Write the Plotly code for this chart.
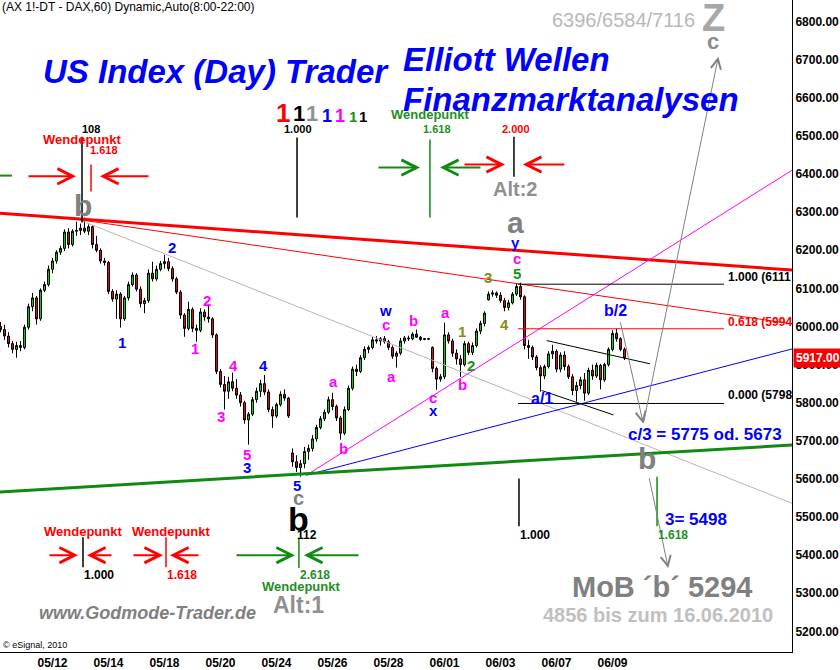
import plotly.graph_objects as go

FONT = "Liberation Sans, Arial, sans-serif"

# ---------------- data ----------------
days = ["05/10", "05/11", "05/12", "05/13", "05/14", "05/17", "05/18", "05/19", "05/20",
        "05/21", "05/24", "05/25", "05/26", "05/27", "05/28", "05/31", "06/01", "06/02",
        "06/03", "06/04", "06/07", "06/08", "06/09"]
tick_days = ["05/12", "05/14", "05/18", "05/20", "05/24", "05/26", "05/28",
             "06/01", "06/03", "06/07", "06/09"]
price_ticks = [5200, 5300, 5400, 5500, 5600, 5700, 5800, 5900, 6000, 6100,
               6200, 6300, 6400, 6500, 6600, 6700, 6800]
price_tick_labels = ["5200.00", "5300.00", "5400.00", "5500.00", "5600.00", "5700.00",
                     "5800.00", "5900.00", "6000.00", "6100.00", "6200.00", "6300.00",
                     "6400.00", "6500.00", "6600.00", "6700.00", "6800.00"]
last_price = 5917

# 2-hour bars (7 per session), first bar is slot 4 of 05/10
opens = [6000, 5992, 5975,
         5955, 5940, 5950, 5945, 5998, 6052, 6075,
         6020, 6095, 6110, 6150, 6172, 6195, 6205,
         6248, 6215, 6250, 6252, 6258, 6250, 6262,
         6215, 6200, 6172, 6168, 6092, 6072, 6085,
         6020, 6075, 6110, 6135, 6098, 6060, 6068,
         6140, 6125, 6150, 6165, 6170, 6152, 6125,
         6090, 6030, 5995, 6045, 5995, 5990, 6038,
         6025, 6020, 5978, 5882, 5848, 5830, 5855,
         5838, 5820, 5800, 5755, 5770, 5808, 5830,
         5850, 5828, 5782, 5765, 5795, 5822, 5812,
         5668, 5645, 5630, 5640, 5672, 5680, 5705,
         5735, 5758, 5775, 5808, 5790, 5760, 5720,
         5782, 5838, 5888, 5882, 5918, 5940, 5945,
         5965, 5962, 5968, 5960, 5945, 5922, 5930,
         5962, 5970, 5968, 5980, 5972, 5966, 5968,
         5945, 5890, 5862, 5868, 5978, 5962, 5930,
         5915, 5900, 5955, 5932, 5950, 5988, 6008,
         6070, 6085, 6088, 6082, 6068, 6050, 6062,
         6085, 6105, 6078, 5950, 5945, 5920, 5892,
         5870, 5895, 5928, 5935, 5888, 5925, 5895,
         5868, 5832, 5845, 5860, 5825, 5885, 5870,
         5898, 5860, 5900, 5940, 5982, 5968, 5940]
highs = [6012, 6005, 5985,
         5962, 5960, 5962, 6005, 6060, 6088, 6080,
         6100, 6118, 6160, 6180, 6200, 6212, 6255,
         6258, 6255, 6275, 6270, 6286, 6268, 6265,
         6238, 6205, 6180, 6172, 6098, 6095, 6090,
         6080, 6118, 6142, 6140, 6105, 6075, 6150,
         6170, 6160, 6172, 6188, 6180, 6158, 6130,
         6095, 6035, 6065, 6050, 6005, 6048, 6045,
         6058, 6025, 5982, 5888, 5870, 5868, 5879,
         5862, 5828, 5805, 5775, 5815, 5840, 5860,
         5873, 5835, 5790, 5800, 5830, 5835, 5815,
         5680, 5662, 5650, 5684, 5690, 5715, 5742,
         5765, 5782, 5816, 5826, 5795, 5765, 5790,
         5845, 5895, 5900, 5925, 5948, 5950, 5972,
         5975, 5972, 5975, 5965, 5950, 5935, 5970,
         5975, 5976, 5985, 5992, 5975, 5970, 5970,
         5948, 5895, 5875, 6010, 5985, 5968, 5940,
         5925, 5962, 5960, 5958, 5995, 6015, 6040,
         6092, 6095, 6092, 6090, 6075, 6070, 6090,
         6112, 6115, 6082, 5965, 5950, 5925, 5898,
         5900, 5935, 5952, 5940, 5932, 5935, 5900,
         5875, 5855, 5868, 5878, 5892, 5900, 5905,
         5902, 5905, 5945, 5990, 5994, 5972, 5945]
lows = [5985, 5965, 5945,
        5930, 5918, 5935, 5940, 5992, 6040, 6005,
        6015, 6090, 6105, 6140, 6165, 6188, 6198,
        6205, 6210, 6238, 6240, 6245, 6240, 6205,
        6195, 6165, 6160, 6085, 6065, 6020, 5997,
        6015, 6068, 6105, 6092, 6050, 6035, 6062,
        6118, 6120, 6145, 6152, 6145, 6118, 6085,
        6020, 5973, 5990, 5985, 5960, 5985, 6015,
        6010, 5970, 5875, 5840, 5782, 5810, 5830,
        5810, 5790, 5745, 5690, 5765, 5800, 5815,
        5820, 5775, 5734, 5760, 5790, 5805, 5760,
        5632, 5618, 5606, 5628, 5650, 5672, 5698,
        5730, 5752, 5770, 5780, 5752, 5703, 5715,
        5778, 5832, 5870, 5878, 5912, 5930, 5940,
        5955, 5950, 5955, 5938, 5915, 5892, 5925,
        5955, 5962, 5964, 5970, 5962, 5964, 5965,
        5880, 5834, 5855, 5862, 5955, 5920, 5900,
        5868, 5895, 5925, 5925, 5945, 5980, 6000,
        6068, 6078, 6075, 6062, 6040, 6042, 6058,
        6080, 6070, 5940, 5915, 5912, 5885, 5829,
        5862, 5890, 5915, 5880, 5880, 5885, 5862,
        5820, 5803, 5835, 5805, 5820, 5860, 5865,
        5835, 5855, 5895, 5935, 5960, 5935, 5912]
closes = [5992, 5975, 5955,
          5940, 5950, 5945, 5998, 6052, 6075, 6020,
          6095, 6110, 6150, 6172, 6195, 6205, 6248,
          6215, 6250, 6252, 6258, 6250, 6262, 6215,
          6200, 6172, 6168, 6092, 6072, 6085, 6020,
          6075, 6110, 6135, 6098, 6060, 6068, 6140,
          6125, 6150, 6165, 6170, 6152, 6125, 6090,
          6030, 5995, 6045, 5995, 5990, 6038, 6025,
          6020, 5978, 5882, 5848, 5830, 5855, 5838,
          5820, 5800, 5755, 5770, 5808, 5830, 5850,
          5828, 5782, 5765, 5795, 5822, 5812, 5765,
          5645, 5630, 5640, 5672, 5680, 5705, 5735,
          5758, 5775, 5808, 5790, 5760, 5720, 5782,
          5838, 5888, 5882, 5918, 5940, 5945, 5965,
          5962, 5968, 5960, 5945, 5922, 5930, 5962,
          5970, 5968, 5980, 5972, 5966, 5968, 5967,
          5890, 5862, 5868, 5978, 5962, 5930, 5915,
          5900, 5955, 5932, 5950, 5988, 6008, 6035,
          6085, 6088, 6082, 6068, 6050, 6062, 6085,
          6105, 6078, 5950, 5945, 5920, 5892, 5870,
          5895, 5928, 5935, 5888, 5925, 5895, 5868,
          5832, 5845, 5860, 5825, 5885, 5870, 5898,
          5860, 5900, 5940, 5982, 5968, 5940, 5917]

# trend / fib lines in (session index, price) coordinates
trend_lines = [
    # x0, p0, x1, p1, colour, width
    (0.125, 6297, 28.41, 6148, "#ff0000", 3),
    (3.09, 6279, 28.41, 6007, "#ff0000", 1),
    (3.09, 6276, 28.41, 5536, "#bcb4b4", 1),
    (11.07, 5610, 28.41, 6410, "#ff00ff", 1),
    (11.07, 5610, 28.41, 5941, "#0000ff", 1),
    (0.125, 5566, 28.41, 5689, "#108a10", 3),
    (19.65, 5963, 23.34, 5902, "#000000", 1),
    (19.47, 5832, 22.03, 5768, "#000000", 1),
    (0.125, 6396, 0.55, 6396, "#108a10", 2),
]
fib_levels = [6111, 5994, 5798]
fib_colors = ["#000000", "#ff0000", "#000000"]
fib_names = ["1.000 (6111", "0.618 (5994", "0.000 (5798"]
fib_label_prices = [6129, 6013, 5819]
fib_x = (18.625, 25.98)

# vertical turning-point markers: x, p_top, p_bottom, colour
markers = [
    (3.054, 6498, 6273, "#000000"),
    (3.375, 6425, 6354, "#ff0000"),
    (10.732, 6496, 6286, "#000000"),
    (15.48, 6491, 6286, "#108a10"),
    (18.48, 6498, 6393, "#000000"),
    (3.089, 5447, 5368, "#000000"),
    (6.054, 5447, 5368, "#ff0000"),
    (10.80, 5444, 5366, "#108a10"),
    (18.66, 5601, 5476, "#000000"),
    (23.59, 5606, 5476, "#108a10"),
]

# turning-point arrows: head x, head price, tail offset px, colour
turn_arrows = [
    (2.839, 6394, -49, "#ff0000"), (3.696, 6394, 50, "#ff0000"),
    (15.125, 6417, -43, "#108a10"), (15.84, 6417, 42, "#108a10"),
    (18.16, 6425, -42, "#ff0000"), (18.80, 6425, 43, "#ff0000"),
    (2.911, 5400, -30, "#ff0000"), (3.232, 5400, 26, "#ff0000"),
    (5.946, 5400, -31, "#ff0000"), (6.196, 5400, 30, "#ff0000"),
    (10.66, 5400, -60, "#108a10"), (10.98, 5400, 56, "#108a10"),
]

# projection arrows: tail x, tail p, head x, head p
projections = [
    (22.27, 6015, 23.10, 5745),
    (23.10, 5745, 25.78, 6708),
    (23.30, 5606, 23.99, 5366),
]

PINK, BLUE, OLIVE, GREEN = "#ff00ff", "#0000ff", "#7f8f10", "#1f8f1f"
GRAY, RED, BLACK = "#888888", "#ff0000", "#000000"

# text labels: text, x, price, colour, size, bold, italic, xanchor
labels = [
    ("(AX 1!-DT - DAX,60) Dynamic,Auto(8:00-22:00)", 0.125, 6838, BLACK, 12, False, False, "left"),
    ("US Index (Day) Trader", 7.84, 6668, BLUE, 33, True, True, "center"),
    ("Elliott Wellen", 14.45, 6700, BLUE, 33, True, True, "left"),
    ("Finanzmarktanalysen", 14.45, 6595, BLUE, 33, True, True, "left"),
    ("6396/6584/7116", 22.375, 6804, "#b8b8b8", 20, False, False, "center"),
    ("Z", 25.59, 6810, "#a8a8a8", 38, True, False, "center"),
    ("c", 25.59, 6747, "#8c8c8c", 22, True, False, "center"),
    ("1", 10.23, 6561, RED, 26, True, False, "center"),
    ("1", 10.80, 6559, BLACK, 22, True, False, "center"),
    ("1", 11.27, 6559, "#909090", 22, True, False, "center"),
    ("1", 11.80, 6553, BLUE, 18, True, False, "center"),
    ("1", 12.27, 6553, PINK, 18, True, False, "center"),
    ("1", 12.73, 6551, GREEN, 15, True, False, "center"),
    ("1", 13.09, 6551, BLACK, 15, True, False, "center"),
    ("108", 3.375, 6517, BLACK, 11, True, False, "center"),
    ("Wendepunkt", 3.054, 6491, RED, 13, True, False, "center"),
    ("1.618", 3.84, 6462, RED, 11, True, False, "center"),
    ("1.000", 10.77, 6517, BLACK, 11, True, False, "center"),
    ("Wendepunkt", 15.48, 6556, GREEN, 13, True, False, "center"),
    ("1.618", 15.73, 6517, GREEN, 11, True, False, "center"),
    ("2.000", 18.55, 6517, RED, 11, True, False, "center"),
    ("Alt:2", 18.52, 6360, "#909090", 20, True, False, "center"),
    ("a", 18.52, 6273, "#808080", 30, True, False, "center"),
    ("y", 18.55, 6221, BLUE, 15, True, False, "center"),
    ("c", 18.59, 6179, PINK, 15, True, False, "center"),
    ("5", 18.59, 6140, GREEN, 15, True, False, "center"),
    ("3", 17.55, 6129, OLIVE, 15, True, False, "center"),
    ("4", 18.16, 6004, OLIVE, 15, True, False, "center"),
    ("b", 3.09, 6318, "#808080", 30, True, False, "center"),
    ("2", 6.27, 6208, BLUE, 15, True, False, "center"),
    ("1", 4.48, 5959, BLUE, 15, True, False, "center"),
    ("2", 7.52, 6067, PINK, 15, True, False, "center"),
    ("1", 7.09, 5941, PINK, 15, True, False, "center"),
    ("4", 8.45, 5897, PINK, 15, True, False, "center"),
    ("4", 9.52, 5897, BLUE, 15, True, False, "center"),
    ("3", 8.02, 5763, PINK, 15, True, False, "center"),
    ("5", 8.95, 5664, PINK, 15, True, False, "center"),
    ("3", 8.95, 5630, BLUE, 15, True, False, "center"),
    ("5", 10.73, 5583, BLUE, 15, True, False, "center"),
    ("c", 10.77, 5549, "#808080", 20, True, False, "center"),
    ("b", 10.77, 5494, BLACK, 34, True, False, "center"),
    ("112", 11.09, 5452, BLACK, 12, True, False, "center"),
    ("a", 12.02, 5855, PINK, 15, True, False, "center"),
    ("b", 12.375, 5680, PINK, 15, True, False, "center"),
    ("w", 13.91, 6041, BLUE, 15, True, False, "center"),
    ("c", 13.91, 6004, PINK, 15, True, False, "center"),
    ("b", 14.875, 6017, PINK, 15, True, False, "center"),
    ("a", 14.09, 5870, PINK, 15, True, False, "center"),
    ("c", 15.59, 5813, PINK, 15, True, False, "center"),
    ("x", 15.59, 5779, BLUE, 15, True, False, "center"),
    ("a", 16.02, 6038, PINK, 15, True, False, "center"),
    ("1", 16.625, 5988, OLIVE, 15, True, False, "center"),
    ("2", 16.95, 5897, GREEN, 15, True, False, "center"),
    ("b", 16.625, 5847, PINK, 15, True, False, "center"),
    ("a/1", 19.48, 5810, BLUE, 16, True, False, "center"),
    ("b/2", 22.09, 6043, BLUE, 16, True, False, "center"),
    ("c/3 = 5775 od. 5673", 25.30, 5716, BLUE, 17, True, False, "center"),
    ("b", 23.23, 5653, "#808080", 30, True, False, "center"),
    ("1.000", 19.23, 5454, BLACK, 12, True, False, "center"),
    ("1.618", 24.16, 5454, GREEN, 12, True, False, "center"),
    ("3= 5498", 23.80, 5494, BLUE, 17, True, False, "left"),
    ("MoB \u00b4b\u00b4 5294", 23.77, 5316, "#808080", 29, True, False, "center"),
    ("4856 bis zum 16.06.2010", 23.625, 5243, "#c0c0c0", 20, True, False, "center"),
    ("www.Godmode-Trader.de", 5.41, 5248, "#808080", 18, True, True, "center"),
    ("\u00a9 eSignal, 2010", 0.15, 5164, BLACK, 9, False, False, "left"),
    ("Wendepunkt", 3.09, 5462, RED, 13, True, False, "center"),
    ("Wendepunkt", 6.23, 5462, RED, 13, True, False, "center"),
    ("1.000", 3.66, 5348, BLACK, 12, True, False, "center"),
    ("1.618", 6.625, 5348, RED, 12, True, False, "center"),
    ("2.618", 11.375, 5348, GREEN, 12, True, False, "center"),
    ("Wendepunkt", 10.875, 5319, GREEN, 13, True, False, "center"),
    ("Alt:1", 10.77, 5269, "#909090", 23, True, False, "center"),
]

# ---------------- figure ----------------
bars_per_day = 7
first_slot = 4
bar_x = [(first_slot + n + 0.5) / bars_per_day - 0.5 for n in range(len(opens))]

fig = go.Figure()
fig.add_trace(go.Candlestick(
    x=bar_x, open=opens, high=highs, low=lows, close=closes,
    increasing=dict(line=dict(color="black", width=1), fillcolor="#1ec81e"),
    decreasing=dict(line=dict(color="black", width=1), fillcolor="#e01010"),
    whiskerwidth=0, showlegend=False, hoverinfo="skip"))

shapes = []
for x0, p0, x1, p1, col, w in trend_lines:
    shapes.append(dict(type="line", xref="x", yref="y", x0=x0, y0=p0, x1=x1, y1=p1,
                       line=dict(color=col, width=w)))
for lvl, col in zip(fib_levels, fib_colors):
    shapes.append(dict(type="line", xref="x", yref="y", x0=fib_x[0], x1=fib_x[1],
                       y0=lvl, y1=lvl, line=dict(color=col, width=1)))
for x, pt, pb, col in markers:
    shapes.append(dict(type="line", xref="x", yref="y", x0=x, x1=x, y0=pt, y1=pb,
                       line=dict(color=col, width=1.5)))

annotations = []
for name, col, lp in zip(fib_names, fib_colors, fib_label_prices):
    annotations.append(dict(x=26.05, y=lp, xref="x", yref="y", text="<b>%s</b>" % name,
                            showarrow=False, xanchor="left", yanchor="middle",
                            font=dict(family=FONT, size=12, color=col)))
for hx, hp, off, col in turn_arrows:
    annotations.append(dict(x=hx, y=hp, xref="x", yref="y", text="", showarrow=True,
                            ax=off, ay=0, arrowhead=5, arrowwidth=2, arrowsize=1.5,
                            arrowcolor=col, standoff=0, startstandoff=0))
for tx, tp, hx, hp in projections:
    annotations.append(dict(x=hx, y=hp, xref="x", yref="y", ax=tx, ay=tp, axref="x",
                            ayref="y", text="", showarrow=True, arrowhead=5,
                            arrowwidth=1, arrowsize=2, arrowcolor="#808080",
                            standoff=0, startstandoff=0))
for text, x, p, col, size, bold, italic, xa in labels:
    t = text
    if bold:
        t = "<b>%s</b>" % t
    if italic:
        t = "<i>%s</i>" % t
    annotations.append(dict(x=x, y=p, xref="x", yref="y", text=t, showarrow=False,
                            xanchor=xa, yanchor="middle",
                            font=dict(family=FONT, size=size, color=col)))
annotations.append(dict(x=1.0, y=last_price, xref="paper", yref="y",
                        text="<b>%.2f</b>" % last_price, showarrow=False,
                        xanchor="left", yanchor="middle", xshift=1,
                        bgcolor="#ff0000", borderpad=2,
                        font=dict(family=FONT, size=12, color="white")))

fig.update_layout(
    width=840, height=670,
    margin=dict(l=0, r=48, t=0, b=16, pad=0),
    paper_bgcolor="white", plot_bgcolor="white",
    showlegend=False, hovermode=False,
    font=dict(family=FONT, size=12, color="black"),
    shapes=shapes, annotations=annotations,
    xaxis=dict(range=[0.125, 28.41], tickvals=[days.index(d) for d in tick_days],
               ticktext=tick_days, showgrid=False, zeroline=False, showline=True,
               linecolor="black", linewidth=1, ticks="",
               tickfont=dict(family=FONT, size=12, color="black", weight="bold"),
               rangeslider=dict(visible=False), fixedrange=True),
    yaxis=dict(side="right", range=[5145.8, 6856.8], tickvals=price_ticks,
               ticktext=price_tick_labels, showgrid=False, zeroline=False,
               showline=True, linecolor="black", linewidth=1, ticks="",
               tickfont=dict(family=FONT, size=12, color="black", weight="bold"),
               fixedrange=True),
)

fig.write_html("out.html", config={"displayModeBar": False},
               post_script="document.body.style.margin='0';document.body.style.overflow='hidden';")
